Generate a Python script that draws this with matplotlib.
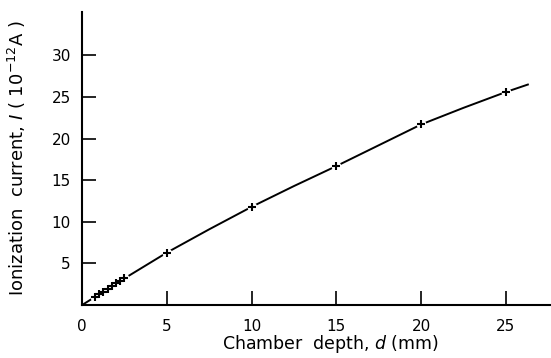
import matplotlib
matplotlib.use("Agg")
import matplotlib.pyplot as plt

# measured points (crosses)
depth_mm = [0.75, 1.0, 1.25, 1.5, 1.75, 2.0, 2.25, 2.5, 5, 10, 15, 20, 25]
current = [1.0, 1.3, 1.6, 1.95, 2.25, 2.6, 2.9, 3.2, 6.3, 11.8, 16.7, 21.7, 25.6]

# fitted curve
curve_d = [0, 2.5, 5, 7.5, 10, 12.5, 15, 17.5, 20, 22.5, 25, 26.3]
curve_i = [0, 3.2, 6.3, 9.1, 11.8, 14.3, 16.7, 19.2, 21.7, 23.7, 25.6, 26.5]

xticks = [0, 5, 10, 15, 20, 25]
yticks = [5, 10, 15, 20, 25, 30]

plt.rcParams['font.family'] = ['DejaVu Sans']

fig = plt.figure(figsize=(5.51, 3.58), dpi=100)
ax = fig.add_axes([0.149, 0.148, 0.849, 0.818])

ax.plot(curve_d, curve_i, color='black', lw=1.4, zorder=2)
ax.plot(depth_mm, current, ls='none', marker='o', ms=7, mfc='white',
        mec='none', zorder=3)
ax.plot(depth_mm, current, ls='none', marker='+', ms=6, mew=1.5,
        color='black', zorder=4)

ax.set_xlim(0, 27.6)
ax.set_ylim(0, 35.2)
ax.set_xticks(xticks)
ax.set_yticks(yticks)
ax.tick_params(direction='in', length=10, width=1.2, labelsize=11)
ax.tick_params(axis='y', pad=8)
ax.tick_params(axis='x', pad=10)

for s in ['top', 'right']:
    ax.spines[s].set_visible(False)
for s in ['left', 'bottom']:
    ax.spines[s].set_linewidth(1.5)

ax.set_xlabel(r'Chamber  depth, $d$ (mm)', fontsize=12.5)
ax.xaxis.set_label_coords(0.53, -0.095)
ax.set_ylabel(r'Ionization  current, $I$ ( 10$^{-12}$A )', fontsize=13)
ax.yaxis.set_label_coords(-0.115, 0.5)

fig.savefig('out.png', dpi=100)
